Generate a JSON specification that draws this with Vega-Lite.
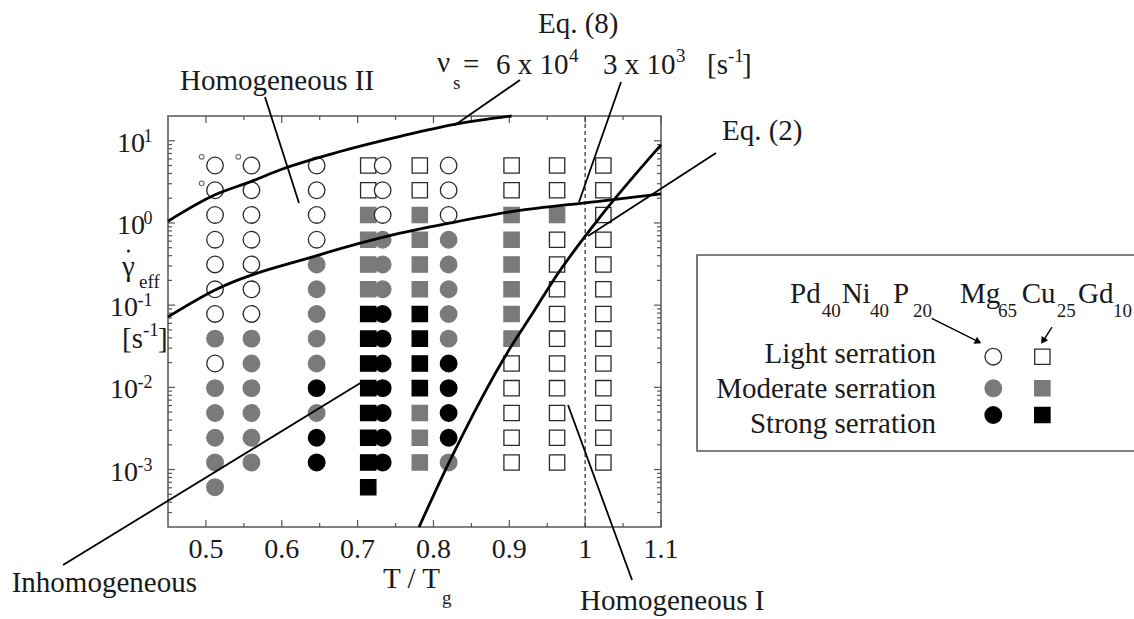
{
"$schema": "https://vega.github.io/schema/vega-lite/v6.json",
"width": 493, "height": 411,
"autosize": {"type": "none"},
"padding": {"left": 168, "top": 116, "right": 473, "bottom": 92},
"background": "white",
"config": {"view": {"stroke": "#555", "strokeWidth": 1.5}, "font": "Liberation Serif"},
"datasets": {
"xmaj": [{"T":0.5},{"T":0.6},{"T":0.7},{"T":0.8},{"T":0.9},{"T":1.0},{"T":1.1}],
"xmin": [{"T":0.55},{"T":0.65},{"T":0.75},{"T":0.85},{"T":0.95},{"T":1.05}],
"xlab": [{"T":0.5,"l":"0.5"},{"T":0.6,"l":"0.6"},{"T":0.7,"l":"0.7"},{"T":0.8,"l":"0.8"},{"T":0.9,"l":"0.9"},{"T":1.0,"l":"1"},{"T":1.1,"l":"1.1"}],
"ymaj": [{"r":0.001},{"r":0.01},{"r":0.1},{"r":1},{"r":10}],
"ymin": [{"r":0.0003},{"r":0.0004},{"r":0.0005},{"r":0.0006},{"r":0.0007},{"r":0.0008},{"r":0.0009},
{"r":0.002},{"r":0.003},{"r":0.004},{"r":0.005},{"r":0.006},{"r":0.007},{"r":0.008},{"r":0.009},
{"r":0.02},{"r":0.03},{"r":0.04},{"r":0.05},{"r":0.06},{"r":0.07},{"r":0.08},{"r":0.09},
{"r":0.2},{"r":0.3},{"r":0.4},{"r":0.5},{"r":0.6},{"r":0.7},{"r":0.8},{"r":0.9},
{"r":2},{"r":3},{"r":4},{"r":5},{"r":6},{"r":7},{"r":8},{"r":9}],
"ref": [{"T":1.0}],
"pts": [
{"T":0.714,"r":5,"a":"Mg","s":"L"},{"T":0.714,"r":2.5,"a":"Mg","s":"L"},{"T":0.714,"r":1.25,"a":"Mg","s":"M"},{"T":0.714,"r":0.625,"a":"Mg","s":"M"},{"T":0.714,"r":0.3125,"a":"Mg","s":"M"},{"T":0.714,"r":0.156,"a":"Mg","s":"M"},{"T":0.714,"r":0.0781,"a":"Mg","s":"S"},{"T":0.714,"r":0.0391,"a":"Mg","s":"S"},{"T":0.714,"r":0.0195,"a":"Mg","s":"S"},{"T":0.714,"r":0.00977,"a":"Mg","s":"S"},{"T":0.714,"r":0.00488,"a":"Mg","s":"S"},{"T":0.714,"r":0.00244,"a":"Mg","s":"S"},{"T":0.714,"r":0.00122,"a":"Mg","s":"S"},{"T":0.714,"r":0.00061,"a":"Mg","s":"S"},
{"T":0.782,"r":5,"a":"Mg","s":"L"},{"T":0.782,"r":2.5,"a":"Mg","s":"L"},{"T":0.782,"r":1.25,"a":"Mg","s":"M"},{"T":0.782,"r":0.625,"a":"Mg","s":"M"},{"T":0.782,"r":0.3125,"a":"Mg","s":"M"},{"T":0.782,"r":0.156,"a":"Mg","s":"M"},{"T":0.782,"r":0.0781,"a":"Mg","s":"S"},{"T":0.782,"r":0.0391,"a":"Mg","s":"S"},{"T":0.782,"r":0.0195,"a":"Mg","s":"S"},{"T":0.782,"r":0.00977,"a":"Mg","s":"S"},{"T":0.782,"r":0.00488,"a":"Mg","s":"M"},{"T":0.782,"r":0.00244,"a":"Mg","s":"M"},{"T":0.782,"r":0.00122,"a":"Mg","s":"M"},
{"T":0.903,"r":5,"a":"Mg","s":"L"},{"T":0.903,"r":2.5,"a":"Mg","s":"L"},{"T":0.903,"r":1.25,"a":"Mg","s":"M"},{"T":0.903,"r":0.625,"a":"Mg","s":"M"},{"T":0.903,"r":0.3125,"a":"Mg","s":"M"},{"T":0.903,"r":0.156,"a":"Mg","s":"M"},{"T":0.903,"r":0.0781,"a":"Mg","s":"M"},{"T":0.903,"r":0.0391,"a":"Mg","s":"M"},{"T":0.903,"r":0.0195,"a":"Mg","s":"L"},{"T":0.903,"r":0.00977,"a":"Mg","s":"L"},{"T":0.903,"r":0.00488,"a":"Mg","s":"L"},{"T":0.903,"r":0.00244,"a":"Mg","s":"L"},{"T":0.903,"r":0.00122,"a":"Mg","s":"L"},
{"T":0.963,"r":5,"a":"Mg","s":"L"},{"T":0.963,"r":2.5,"a":"Mg","s":"L"},{"T":0.963,"r":1.25,"a":"Mg","s":"M"},{"T":0.963,"r":0.625,"a":"Mg","s":"L"},{"T":0.963,"r":0.3125,"a":"Mg","s":"L"},{"T":0.963,"r":0.156,"a":"Mg","s":"L"},{"T":0.963,"r":0.0781,"a":"Mg","s":"L"},{"T":0.963,"r":0.0391,"a":"Mg","s":"L"},{"T":0.963,"r":0.0195,"a":"Mg","s":"L"},{"T":0.963,"r":0.00977,"a":"Mg","s":"L"},{"T":0.963,"r":0.00488,"a":"Mg","s":"L"},{"T":0.963,"r":0.00244,"a":"Mg","s":"L"},{"T":0.963,"r":0.00122,"a":"Mg","s":"L"},
{"T":1.024,"r":5,"a":"Mg","s":"L"},{"T":1.024,"r":2.5,"a":"Mg","s":"L"},{"T":1.024,"r":1.25,"a":"Mg","s":"L"},{"T":1.024,"r":0.625,"a":"Mg","s":"L"},{"T":1.024,"r":0.3125,"a":"Mg","s":"L"},{"T":1.024,"r":0.156,"a":"Mg","s":"L"},{"T":1.024,"r":0.0781,"a":"Mg","s":"L"},{"T":1.024,"r":0.0391,"a":"Mg","s":"L"},{"T":1.024,"r":0.0195,"a":"Mg","s":"L"},{"T":1.024,"r":0.00977,"a":"Mg","s":"L"},{"T":1.024,"r":0.00488,"a":"Mg","s":"L"},{"T":1.024,"r":0.00244,"a":"Mg","s":"L"},{"T":1.024,"r":0.00122,"a":"Mg","s":"L"},
{"T":0.512,"r":5,"a":"Pd","s":"L"},{"T":0.512,"r":2.5,"a":"Pd","s":"L"},{"T":0.512,"r":1.25,"a":"Pd","s":"L"},{"T":0.512,"r":0.625,"a":"Pd","s":"L"},{"T":0.512,"r":0.3125,"a":"Pd","s":"L"},{"T":0.512,"r":0.156,"a":"Pd","s":"L"},{"T":0.512,"r":0.0781,"a":"Pd","s":"L"},{"T":0.512,"r":0.0391,"a":"Pd","s":"M"},{"T":0.512,"r":0.0195,"a":"Pd","s":"L"},{"T":0.512,"r":0.00977,"a":"Pd","s":"M"},{"T":0.512,"r":0.00488,"a":"Pd","s":"M"},{"T":0.512,"r":0.00244,"a":"Pd","s":"M"},{"T":0.512,"r":0.00122,"a":"Pd","s":"M"},{"T":0.512,"r":0.00061,"a":"Pd","s":"M"},
{"T":0.560,"r":5,"a":"Pd","s":"L"},{"T":0.560,"r":2.5,"a":"Pd","s":"L"},{"T":0.560,"r":1.25,"a":"Pd","s":"L"},{"T":0.560,"r":0.625,"a":"Pd","s":"L"},{"T":0.560,"r":0.3125,"a":"Pd","s":"L"},{"T":0.560,"r":0.156,"a":"Pd","s":"L"},{"T":0.560,"r":0.0781,"a":"Pd","s":"L"},{"T":0.560,"r":0.0391,"a":"Pd","s":"M"},{"T":0.560,"r":0.0195,"a":"Pd","s":"M"},{"T":0.560,"r":0.00977,"a":"Pd","s":"M"},{"T":0.560,"r":0.00488,"a":"Pd","s":"M"},{"T":0.560,"r":0.00244,"a":"Pd","s":"M"},{"T":0.560,"r":0.00122,"a":"Pd","s":"M"},
{"T":0.646,"r":5,"a":"Pd","s":"L"},{"T":0.646,"r":2.5,"a":"Pd","s":"L"},{"T":0.646,"r":1.25,"a":"Pd","s":"L"},{"T":0.646,"r":0.625,"a":"Pd","s":"L"},{"T":0.646,"r":0.3125,"a":"Pd","s":"M"},{"T":0.646,"r":0.156,"a":"Pd","s":"M"},{"T":0.646,"r":0.0781,"a":"Pd","s":"M"},{"T":0.646,"r":0.0391,"a":"Pd","s":"M"},{"T":0.646,"r":0.0195,"a":"Pd","s":"M"},{"T":0.646,"r":0.00977,"a":"Pd","s":"S"},{"T":0.646,"r":0.00488,"a":"Pd","s":"M"},{"T":0.646,"r":0.00244,"a":"Pd","s":"S"},{"T":0.646,"r":0.00122,"a":"Pd","s":"S"},
{"T":0.733,"r":5,"a":"Pd","s":"L"},{"T":0.733,"r":2.5,"a":"Pd","s":"L"},{"T":0.733,"r":1.25,"a":"Pd","s":"L"},{"T":0.733,"r":0.625,"a":"Pd","s":"M"},{"T":0.733,"r":0.3125,"a":"Pd","s":"M"},{"T":0.733,"r":0.156,"a":"Pd","s":"M"},{"T":0.733,"r":0.0781,"a":"Pd","s":"S"},{"T":0.733,"r":0.0391,"a":"Pd","s":"S"},{"T":0.733,"r":0.0195,"a":"Pd","s":"S"},{"T":0.733,"r":0.00977,"a":"Pd","s":"S"},{"T":0.733,"r":0.00488,"a":"Pd","s":"S"},{"T":0.733,"r":0.00244,"a":"Pd","s":"S"},{"T":0.733,"r":0.00122,"a":"Pd","s":"S"},
{"T":0.820,"r":5,"a":"Pd","s":"L"},{"T":0.820,"r":2.5,"a":"Pd","s":"L"},{"T":0.820,"r":1.25,"a":"Pd","s":"L"},{"T":0.820,"r":0.625,"a":"Pd","s":"M"},{"T":0.820,"r":0.3125,"a":"Pd","s":"M"},{"T":0.820,"r":0.156,"a":"Pd","s":"M"},{"T":0.820,"r":0.0781,"a":"Pd","s":"M"},{"T":0.820,"r":0.0391,"a":"Pd","s":"M"},{"T":0.820,"r":0.0195,"a":"Pd","s":"S"},{"T":0.820,"r":0.00977,"a":"Pd","s":"S"},{"T":0.820,"r":0.00488,"a":"Pd","s":"S"},{"T":0.820,"r":0.00244,"a":"Pd","s":"S"},{"T":0.820,"r":0.00122,"a":"Pd","s":"M"}
],
"tiny": [{"T":0.4944,"r":6.38},{"T":0.4944,"r":3.03},{"T":0.5427,"r":6.38}],
"dot": [{"T":0.3979,"r":0.4557}],
"cur": [
{"c":"A","T":0.45,"r":1.05},{"c":"A","T":0.512,"r":2.2},{"c":"A","T":0.56,"r":3.2},{"c":"A","T":0.6,"r":4.5},{"c":"A","T":0.677,"r":7.4},{"c":"A","T":0.756,"r":11.3},{"c":"A","T":0.826,"r":15.7},{"c":"A","T":0.903,"r":20},
{"c":"B","T":0.45,"r":0.072},{"c":"B","T":0.512,"r":0.153},{"c":"B","T":0.642,"r":0.39},{"c":"B","T":0.756,"r":0.75},{"c":"B","T":0.822,"r":1.0},{"c":"B","T":0.905,"r":1.38},{"c":"B","T":1.015,"r":1.82},{"c":"B","T":1.1,"r":2.26},
{"c":"C","T":0.781,"r":0.0002},{"c":"C","T":0.822,"r":0.0013},{"c":"C","T":0.901,"r":0.030},{"c":"C","T":0.932,"r":0.083},{"c":"C","T":0.958,"r":0.20},{"c":"C","T":1.015,"r":1.04},{"c":"C","T":1.1,"r":8.9}
],
"lead": [
{"id":"HII","T":0.5779,"r":34.06},{"id":"HII","T":0.6227,"r":1.748},
{"id":"E8a","T":0.9141,"r":54.8},{"id":"E8a","T":0.8284,"r":15.54},
{"id":"E8b","T":1.0473,"r":51.8},{"id":"E8b","T":0.9919,"r":1.798},
{"id":"E2","T":1.0038,"r":0.6937},{"id":"E2","T":1.1725,"r":7.095},
{"id":"IN","T":0.3116,"r":0.0000690},{"id":"IN","T":0.7058,"r":0.01161},
{"id":"HI","T":0.9774,"r":0.006097},{"id":"HI","T":1.0618,"r":0.0000453}
],
"box": [{"T":1.1475,"T2":1.7316,"r":0.4074,"r2":0.001681}],
"legsym": [
{"T":1.5381,"r":0.0236,"a":"Pd","s":"L"},{"T":1.5381,"r":0.009734,"a":"Pd","s":"M"},{"T":1.5381,"r":0.004609,"a":"Pd","s":"S"},
{"T":1.6028,"r":0.0236,"a":"Mg","s":"L"},{"T":1.6028,"r":0.009734,"a":"Mg","s":"M"},{"T":1.6028,"r":0.004609,"a":"Mg","s":"S"}
],
"arr": [
{"id":"Pd","p":"tail","T":1.4569,"r":0.06918},{"id":"Pd","p":"head","T":1.5183,"r":0.03591},
{"id":"Mg","p":"tail","T":1.6155,"r":0.05421},{"id":"Mg","p":"head","T":1.6037,"r":0.03662}
],
"txt": [
{"t":"Eq. (8)","T":0.9378,"r":204.5},
{"t":"ν","T":0.8047,"r":68.6},
{"t":"=","T":0.8389,"r":64.9},
{"t":"6 x 10","T":0.8825,"r":64.9},
{"t":"3 x 10","T":1.0235,"r":64.9},
{"t":"[s","T":1.1607,"r":64.9},
{"t":"]","T":1.2068,"r":64.9},
{"t":"Homogeneous II","T":0.4658,"r":41.4},
{"t":"Eq. (2)","T":1.1804,"r":10.2},
{"t":"Inhomogeneous","T":0.2439,"r":0.0000324},
{"t":"Homogeneous I","T":0.9932,"r":0.00001956},
{"t":"T / T","T":0.7335,"r":0.0000362},
{"t":"γ","T":0.3894,"r":0.2262},
{"t":"[s","T":0.3894,"r":0.02998},
{"t":"]","T":0.4368,"r":0.02998}
],
"leg": [
{"t":"Pd","T":1.2701,"r":0.1053},{"t":"Ni","T":1.3382,"r":0.1053},{"t":"P","T":1.4059,"r":0.1053},
{"t":"Mg","T":1.4942,"r":0.1053},{"t":"Cu","T":1.5756,"r":0.1053},{"t":"Gd","T":1.6498,"r":0.1053}
],
"txtR": [
{"t":"Light serration","T":1.4626,"r":0.01962},
{"t":"Moderate serration","T":1.4626,"r":0.007356},
{"t":"Strong serration","T":1.4626,"r":0.00276}
],
"scr": [
{"t":"s","T":0.8258,"r":42.6},
{"t":"4","T":0.9787,"r":90.8},
{"t":"3","T":1.1198,"r":90.8},
{"t":"-1","T":1.1883,"r":90.8},
{"t":"eff","T":0.4118,"r":0.1616},
{"t":"-1","T":0.417,"r":0.04197},
{"t":"g","T":0.8113,"r":0.0000231},
{"t":"40","T":1.3119,"r":0.07115},{"t":"40","T":1.3756,"r":0.07115},{"t":"20","T":1.4323,"r":0.07115},
{"t":"65","T":1.5443,"r":0.07115},{"t":"25","T":1.6217,"r":0.07115},{"t":"10","T":1.696,"r":0.07115}
],
"ylab": [{"r":10,"e":"1"},{"r":1,"e":"0"},{"r":0.1,"e":"-1"},{"r":0.01,"e":"-2"},{"r":0.001,"e":"-3"}]
},
"layer": [
{"data": {"name": "xmaj"}, "mark": {"type": "rule", "color": "#555", "strokeWidth": 1.2},
 "encoding": {"x": {"field": "T", "type": "quantitative", "scale": {"domain": [0.45, 1.1], "nice": false, "zero": false}, "axis": null},
  "y": {"datum": 0.0002, "type": "quantitative", "scale": {"type": "log", "domain": [0.0002, 20], "nice": false}, "axis": null}, "y2": {"datum": 0.000243}}},
{"data": {"name": "xmin"}, "mark": {"type": "rule", "color": "#555", "strokeWidth": 1.2},
 "encoding": {"x": {"field": "T", "type": "quantitative", "scale": {"domain": [0.45, 1.1], "nice": false, "zero": false}, "axis": null},
  "y": {"datum": 0.0002, "type": "quantitative", "scale": {"type": "log", "domain": [0.0002, 20], "nice": false}, "axis": null}, "y2": {"datum": 0.0002237}}},
{"data": {"name": "xmaj"}, "mark": {"type": "rule", "color": "#555", "strokeWidth": 1.2},
 "encoding": {"x": {"field": "T", "type": "quantitative", "scale": {"domain": [0.45, 1.1], "nice": false, "zero": false}, "axis": null},
  "y": {"datum": 20, "type": "quantitative", "scale": {"type": "log", "domain": [0.0002, 20], "nice": false}, "axis": null}, "y2": {"datum": 16.44}}},
{"data": {"name": "xmin"}, "mark": {"type": "rule", "color": "#555", "strokeWidth": 1.2},
 "encoding": {"x": {"field": "T", "type": "quantitative", "scale": {"domain": [0.45, 1.1], "nice": false, "zero": false}, "axis": null},
  "y": {"datum": 20, "type": "quantitative", "scale": {"type": "log", "domain": [0.0002, 20], "nice": false}, "axis": null}, "y2": {"datum": 17.88}}},
{"data": {"name": "ymaj"}, "mark": {"type": "rule", "color": "#555", "strokeWidth": 1.2},
 "encoding": {"y": {"field": "r", "type": "quantitative", "scale": {"type": "log", "domain": [0.0002, 20], "nice": false}, "axis": null},
  "x": {"datum": 0.45, "type": "quantitative", "scale": {"domain": [0.45, 1.1], "nice": false, "zero": false}, "axis": null}, "x2": {"datum": 0.45923}}},
{"data": {"name": "ymin"}, "mark": {"type": "rule", "color": "#555", "strokeWidth": 1.2},
 "encoding": {"y": {"field": "r", "type": "quantitative", "scale": {"type": "log", "domain": [0.0002, 20], "nice": false}, "axis": null},
  "x": {"datum": 0.45, "type": "quantitative", "scale": {"domain": [0.45, 1.1], "nice": false, "zero": false}, "axis": null}, "x2": {"datum": 0.45527}}},
{"data": {"name": "ymaj"}, "mark": {"type": "rule", "color": "#555", "strokeWidth": 1.2},
 "encoding": {"y": {"field": "r", "type": "quantitative", "scale": {"type": "log", "domain": [0.0002, 20], "nice": false}, "axis": null},
  "x": {"datum": 1.1, "type": "quantitative", "scale": {"domain": [0.45, 1.1], "nice": false, "zero": false}, "axis": null}, "x2": {"datum": 1.09077}}},
{"data": {"name": "ymin"}, "mark": {"type": "rule", "color": "#555", "strokeWidth": 1.2},
 "encoding": {"y": {"field": "r", "type": "quantitative", "scale": {"type": "log", "domain": [0.0002, 20], "nice": false}, "axis": null},
  "x": {"datum": 1.1, "type": "quantitative", "scale": {"domain": [0.45, 1.1], "nice": false, "zero": false}, "axis": null}, "x2": {"datum": 1.09473}}},
{"data": {"name": "ref"}, "mark": {"type": "rule", "color": "#444", "strokeWidth": 1.4, "strokeDash": [4, 3]},
 "encoding": {"x": {"field": "T", "type": "quantitative", "scale": {"domain": [0.45, 1.1], "nice": false, "zero": false}, "axis": null},
  "y": {"datum": 0.0002, "type": "quantitative", "scale": {"type": "log", "domain": [0.0002, 20], "nice": false}, "axis": null}, "y2": {"datum": 20}}},
{"data": {"name": "xlab"}, "mark": {"type": "text", "align": "center", "baseline": "alphabetic", "dy": 31, "font": "Liberation Serif", "fontSize": 28, "color": "#1a1a1a"},
 "encoding": {"x": {"field": "T", "type": "quantitative", "scale": {"domain": [0.45, 1.1], "nice": false, "zero": false}, "axis": null},
  "y": {"datum": 0.0002, "type": "quantitative", "scale": {"type": "log", "domain": [0.0002, 20], "nice": false}, "axis": null},
  "text": {"field": "l"}}},
{"data": {"name": "pts"}, "mark": {"type": "point", "filled": true, "strokeWidth": 1.3, "opacity": 1},
 "encoding": {
  "x": {"field": "T", "type": "quantitative", "scale": {"domain": [0.45, 1.1], "nice": false, "zero": false}, "axis": null},
  "y": {"field": "r", "type": "quantitative", "scale": {"type": "log", "domain": [0.0002, 20], "nice": false}, "axis": null},
  "shape": {"field": "a", "type": "nominal", "scale": {"domain": ["Pd", "Mg"], "range": ["circle", "square"]}, "legend": null},
  "size": {"field": "a", "type": "nominal", "scale": {"domain": ["Pd", "Mg"], "range": [275, 235]}, "legend": null},
  "fill": {"field": "s", "type": "nominal", "scale": {"domain": ["L", "M", "S"], "range": ["#ffffff", "#7a7a7a", "#000000"]}, "legend": null},
  "stroke": {"field": "s", "type": "nominal", "scale": {"domain": ["L", "M", "S"], "range": ["#2a2a2a", "#7a7a7a", "#000000"]}, "legend": null}
 }},
{"data": {"name": "tiny"}, "mark": {"type": "point", "shape": "circle", "filled": false, "size": 22, "stroke": "#222", "strokeWidth": 1.1},
 "encoding": {"x": {"field": "T", "type": "quantitative", "scale": {"domain": [0.45, 1.1], "nice": false, "zero": false}, "axis": null},
  "y": {"field": "r", "type": "quantitative", "scale": {"type": "log", "domain": [0.0002, 20], "nice": false}, "axis": null}}},
{"data": {"name": "dot"}, "mark": {"type": "point", "shape": "circle", "filled": true, "size": 9, "color": "#1a1a1a", "opacity": 1},
 "encoding": {"x": {"field": "T", "type": "quantitative", "scale": {"domain": [0.45, 1.1], "nice": false, "zero": false}, "axis": null},
  "y": {"field": "r", "type": "quantitative", "scale": {"type": "log", "domain": [0.0002, 20], "nice": false}, "axis": null}}},
{"data": {"name": "cur"}, "mark": {"type": "line", "color": "#000", "strokeWidth": 2.8, "interpolate": "monotone"},
 "encoding": {"x": {"field": "T", "type": "quantitative", "scale": {"domain": [0.45, 1.1], "nice": false, "zero": false}, "axis": null},
  "y": {"field": "r", "type": "quantitative", "scale": {"type": "log", "domain": [0.0002, 20], "nice": false}, "axis": null},
  "detail": {"field": "c"}}},
{"data": {"name": "lead"}, "mark": {"type": "line", "color": "#000", "strokeWidth": 1.8},
 "encoding": {"x": {"field": "T", "type": "quantitative", "scale": {"domain": [0.45, 1.1], "nice": false, "zero": false}, "axis": null},
  "y": {"field": "r", "type": "quantitative", "scale": {"type": "log", "domain": [0.0002, 20], "nice": false}, "axis": null},
  "detail": {"field": "id"}}},
{"data": {"name": "box"}, "mark": {"type": "rect", "fill": null, "stroke": "#555", "strokeWidth": 1.6},
 "encoding": {"x": {"field": "T", "type": "quantitative", "scale": {"domain": [0.45, 1.1], "nice": false, "zero": false}, "axis": null},
  "y": {"field": "r", "type": "quantitative", "scale": {"type": "log", "domain": [0.0002, 20], "nice": false}, "axis": null},
  "x2": {"field": "T2"}, "y2": {"field": "r2"}}},
{"data": {"name": "legsym"}, "mark": {"type": "point", "filled": true, "strokeWidth": 1.3, "opacity": 1},
 "encoding": {
  "x": {"field": "T", "type": "quantitative", "scale": {"domain": [0.45, 1.1], "nice": false, "zero": false}, "axis": null},
  "y": {"field": "r", "type": "quantitative", "scale": {"type": "log", "domain": [0.0002, 20], "nice": false}, "axis": null},
  "shape": {"field": "a", "type": "nominal", "scale": {"domain": ["Pd", "Mg"], "range": ["circle", "square"]}, "legend": null},
  "size": {"field": "a", "type": "nominal", "scale": {"domain": ["Pd", "Mg"], "range": [275, 235]}, "legend": null},
  "fill": {"field": "s", "type": "nominal", "scale": {"domain": ["L", "M", "S"], "range": ["#ffffff", "#7a7a7a", "#000000"]}, "legend": null},
  "stroke": {"field": "s", "type": "nominal", "scale": {"domain": ["L", "M", "S"], "range": ["#2a2a2a", "#7a7a7a", "#000000"]}, "legend": null}
 }},
{"data": {"name": "arr"}, "mark": {"type": "line", "color": "#000", "strokeWidth": 1.4},
 "encoding": {"x": {"field": "T", "type": "quantitative", "scale": {"domain": [0.45, 1.1], "nice": false, "zero": false}, "axis": null},
  "y": {"field": "r", "type": "quantitative", "scale": {"type": "log", "domain": [0.0002, 20], "nice": false}, "axis": null},
  "detail": {"field": "id"}}},
{"data": {"name": "arr"}, "transform": [{"filter": "datum.id == 'Pd' && datum.p == 'head'"}],
 "mark": {"type": "point", "shape": "triangle-up", "filled": true, "color": "#000", "size": 60, "angle": 117, "opacity": 1},
 "encoding": {"x": {"field": "T", "type": "quantitative", "scale": {"domain": [0.45, 1.1], "nice": false, "zero": false}, "axis": null},
  "y": {"field": "r", "type": "quantitative", "scale": {"type": "log", "domain": [0.0002, 20], "nice": false}, "axis": null}}},
{"data": {"name": "arr"}, "transform": [{"filter": "datum.id == 'Mg' && datum.p == 'head'"}],
 "mark": {"type": "point", "shape": "triangle-up", "filled": true, "color": "#000", "size": 60, "angle": 213, "opacity": 1},
 "encoding": {"x": {"field": "T", "type": "quantitative", "scale": {"domain": [0.45, 1.1], "nice": false, "zero": false}, "axis": null},
  "y": {"field": "r", "type": "quantitative", "scale": {"type": "log", "domain": [0.0002, 20], "nice": false}, "axis": null}}},
{"data": {"name": "txt"}, "mark": {"type": "text", "align": "left", "baseline": "alphabetic", "font": "Liberation Serif", "fontSize": 29, "color": "#1a1a1a"},
 "encoding": {"x": {"field": "T", "type": "quantitative", "scale": {"domain": [0.45, 1.1], "nice": false, "zero": false}, "axis": null},
  "y": {"field": "r", "type": "quantitative", "scale": {"type": "log", "domain": [0.0002, 20], "nice": false}, "axis": null},
  "text": {"field": "t"}}},
{"data": {"name": "leg"}, "mark": {"type": "text", "align": "left", "baseline": "alphabetic", "font": "Liberation Serif", "fontSize": 29, "color": "#1a1a1a"},
 "encoding": {"x": {"field": "T", "type": "quantitative", "scale": {"domain": [0.45, 1.1], "nice": false, "zero": false}, "axis": null},
  "y": {"field": "r", "type": "quantitative", "scale": {"type": "log", "domain": [0.0002, 20], "nice": false}, "axis": null},
  "text": {"field": "t"}}},
{"data": {"name": "txtR"}, "mark": {"type": "text", "align": "right", "baseline": "alphabetic", "font": "Liberation Serif", "fontSize": 29, "color": "#1a1a1a"},
 "encoding": {"x": {"field": "T", "type": "quantitative", "scale": {"domain": [0.45, 1.1], "nice": false, "zero": false}, "axis": null},
  "y": {"field": "r", "type": "quantitative", "scale": {"type": "log", "domain": [0.0002, 20], "nice": false}, "axis": null},
  "text": {"field": "t"}}},
{"data": {"name": "scr"}, "mark": {"type": "text", "align": "left", "baseline": "alphabetic", "font": "Liberation Serif", "fontSize": 19, "color": "#1a1a1a"},
 "encoding": {"x": {"field": "T", "type": "quantitative", "scale": {"domain": [0.45, 1.1], "nice": false, "zero": false}, "axis": null},
  "y": {"field": "r", "type": "quantitative", "scale": {"type": "log", "domain": [0.0002, 20], "nice": false}, "axis": null},
  "text": {"field": "t"}}},
{"data": {"name": "ylab"}, "transform": [{"filter": "datum.r < 0.5"}],
 "mark": {"type": "text", "align": "right", "baseline": "alphabetic", "dy": 11, "font": "Liberation Serif", "fontSize": 28, "color": "#1a1a1a"},
 "encoding": {"text": {"value": "10"},
  "x": {"datum": 0.4104, "type": "quantitative", "scale": {"domain": [0.45, 1.1], "nice": false, "zero": false}, "axis": null},
  "y": {"field": "r", "type": "quantitative", "scale": {"type": "log", "domain": [0.0002, 20], "nice": false}, "axis": null}}},
{"data": {"name": "ylab"}, "transform": [{"filter": "datum.r > 0.5"}],
 "mark": {"type": "text", "align": "right", "baseline": "alphabetic", "dy": 11, "font": "Liberation Serif", "fontSize": 28, "color": "#1a1a1a"},
 "encoding": {"text": {"value": "10"},
  "x": {"datum": 0.4197, "type": "quantitative", "scale": {"domain": [0.45, 1.1], "nice": false, "zero": false}, "axis": null},
  "y": {"field": "r", "type": "quantitative", "scale": {"type": "log", "domain": [0.0002, 20], "nice": false}, "axis": null}}},
{"data": {"name": "ylab"},
 "mark": {"type": "text", "align": "right", "baseline": "alphabetic", "dy": 1, "font": "Liberation Serif", "fontSize": 18, "color": "#1a1a1a"},
 "encoding": {"text": {"field": "e"},
  "x": {"datum": 0.4295, "type": "quantitative", "scale": {"domain": [0.45, 1.1], "nice": false, "zero": false}, "axis": null},
  "y": {"field": "r", "type": "quantitative", "scale": {"type": "log", "domain": [0.0002, 20], "nice": false}, "axis": null}}}
]
}
